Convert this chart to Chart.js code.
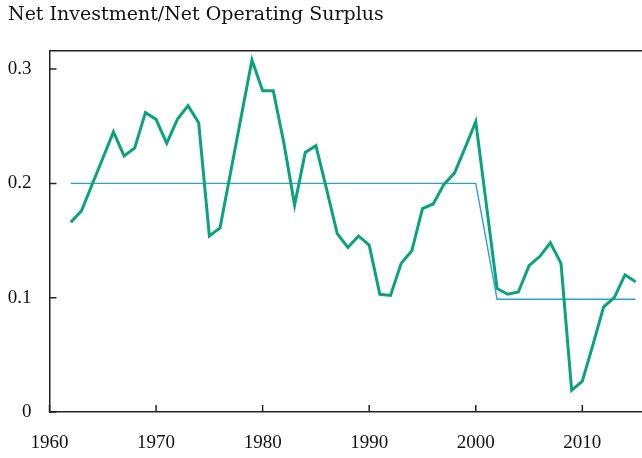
<!DOCTYPE html>
<html>
<head>
<meta charset="utf-8">
<script src="https://cdn.jsdelivr.net/npm/chart.js@4/dist/chart.umd.min.js"></script>
<style>
  html, body { margin: 0; padding: 0; background: #fff; }
  #wrap { width: 642px; height: 458px; }
</style>
</head>
<body>
<div id="wrap"><canvas id="myChart"></canvas></div>
<script>
'use strict';

let years = [];
for (let y = 1962; y <= 2015; y++) years.push(y);

// net investment / net operating surplus
let ratio = [
  0.166, 0.176, 0.199, 0.222, 0.245, 0.224, 0.231, 0.262, 0.256, 0.235,
  0.256, 0.268, 0.253, 0.154, 0.161, 0.210, 0.259, 0.308, 0.281, 0.281,
  0.235, 0.181, 0.227, 0.233, 0.195, 0.156, 0.144, 0.154, 0.146, 0.103,
  0.102, 0.130, 0.141, 0.178, 0.182, 0.199, 0.209, 0.231, 0.254, 0.181,
  0.108, 0.103, 0.105, 0.128, 0.136, 0.148, 0.130, 0.019, 0.027, 0.059,
  0.092, 0.100, 0.120, 0.114
];

// period averages
let avgYears = [1962, 2000, 2002, 2015];
let avgValues = [0.2, 0.2, 0.0986, 0.0986];

let xTicks = [1960, 1970, 1980, 1990, 2000, 2010];
let yTicks = [0, 0.1, 0.2, 0.3];

let serif = '"Liberation Serif", "DejaVu Serif", serif';

let frame = {
  id: 'frame',
  afterDraw(chart) {
    let ctx = chart.ctx;
    let a = chart.chartArea;
    let xs = chart.scales.x, ys = chart.scales.y;
    ctx.save();
    ctx.strokeStyle = '#222';
    ctx.lineWidth = 1.5;
    ctx.beginPath();
    ctx.moveTo(a.left, a.top);
    ctx.lineTo(chart.width, a.top);
    // inward ticks
    for (let v of xTicks) {
      let px = xs.getPixelForValue(v);
      ctx.moveTo(px, a.bottom);
      ctx.lineTo(px, a.bottom - 7);
    }
    for (let v of yTicks) {
      let py = ys.getPixelForValue(v);
      ctx.moveTo(a.left, py);
      ctx.lineTo(a.left + 7, py);
    }
    ctx.stroke();
    ctx.restore();
  }
};

let ctx = document.getElementById('myChart').getContext('2d');
new Chart(ctx, {
  type: 'line',
  data: {
    datasets: [{
      label: 'ratio',
      data: years.map((y, i) => ({ x: y, y: ratio[i] })),
      borderColor: '#0aa37a',
      borderWidth: 3,
      pointRadius: 0,
      tension: 0
    }, {
      label: 'average',
      data: avgYears.map((y, i) => ({ x: y, y: avgValues[i] })),
      borderColor: '#2a9fd8',
      borderWidth: 1.4,
      pointRadius: 0,
      tension: 0
    }]
  },
  options: {
    responsive: true,
    maintainAspectRatio: false,
    animation: false,
    layout: { padding: { left: 8, right: 0, top: 0, bottom: 0 } },
    plugins: {
      legend: { display: false },
      tooltip: { enabled: false },
      title: {
        display: true,
        text: 'Net Investment/Net Operating Surplus',
        align: 'start',
        color: '#111',
        font: { family: '"DejaVu Serif", serif', size: 19, weight: 'normal' },
        padding: { top: 4, bottom: 24 }
      }
    },
    scales: {
      x: {
        type: 'linear',
        min: 1960,
        max: 2015.6,
        afterBuildTicks: s => { s.ticks = xTicks.map(v => ({ value: v })); },
        afterFit: s => { s.height = 46; },
        grid: { display: false, drawTicks: false, tickLength: 0 },
        border: { display: true, color: '#222', width: 1.5 },
        ticks: {
          color: '#111',
          padding: 20,
          maxRotation: 0,
          font: { family: serif, size: 19 },
          callback: v => String(v)
        }
      },
      y: {
        min: 0,
        max: 0.316,
        afterBuildTicks: s => { s.ticks = yTicks.map(v => ({ value: v })); },
        afterFit: s => { s.width = 41.5; },
        grid: { display: false, drawTicks: false, tickLength: 0 },
        border: { display: true, color: '#222', width: 1.5 },
        ticks: {
          color: '#111',
          padding: 18,
          font: { family: serif, size: 19 },
          callback: v => (v === 0 ? '0' : v.toFixed(1))
        }
      }
    }
  },
  plugins: [frame]
});
</script>
</body>
</html>
